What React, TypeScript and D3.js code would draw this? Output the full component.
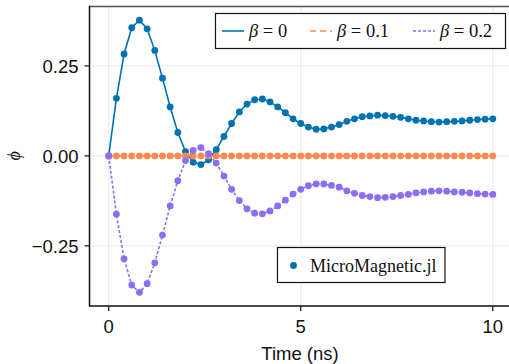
import React, { useEffect, useRef } from "react";
import * as d3 from "d3";

// time samples (ns), 0..10 every 0.2
const times = d3.range(51).map((i) => +(i * 0.2).toFixed(1));

// beta = 0
const phiBeta0 = [
  0, 0.16, 0.283, 0.356, 0.377, 0.353, 0.293, 0.216, 0.136, 0.065,
  0.012, -0.018, -0.024, -0.011, 0.017, 0.054, 0.09, 0.122, 0.144, 0.156,
  0.158, 0.15, 0.136, 0.12, 0.103, 0.09, 0.08, 0.074, 0.075, 0.08,
  0.087, 0.096, 0.103, 0.109, 0.111, 0.113, 0.112, 0.11, 0.107, 0.103,
  0.099, 0.097, 0.095, 0.094, 0.095, 0.096, 0.097, 0.099, 0.101, 0.102,
  0.103,
];

// beta = 0.1
const phiBeta01 = times.map(() => 0);

// beta = 0.2
const phiBeta02 = [
  0, -0.162, -0.286, -0.359, -0.379, -0.355, -0.297, -0.22, -0.139, -0.069,
  -0.013, 0.015, 0.023, 0.006, -0.02, -0.056, -0.093, -0.124, -0.147, -0.159,
  -0.161, -0.153, -0.139, -0.123, -0.106, -0.093, -0.083, -0.078, -0.078, -0.082,
  -0.087, -0.097, -0.104, -0.11, -0.113, -0.116, -0.115, -0.113, -0.11, -0.107,
  -0.103, -0.1, -0.098, -0.097, -0.098, -0.1, -0.101, -0.103, -0.105, -0.106,
  -0.107,
];

const seriesNames = ["β = 0", "β = 0.1", "β = 0.2"];
const xTicks = [0, 5, 10];
const yTicks = [-0.25, 0, 0.25];

const App = () => {
  const ref = useRef<SVGSVGElement>(null);

  useEffect(() => {
    const W = 509;
    const H = 364;
    const svg = d3.select(ref.current);
    svg.selectAll("*").remove();
    svg.attr("width", W).attr("height", H);

    const left = 89.5;
    const bottom = 306;
    const top = 6.5;

    const x = d3.scaleLinear().domain([-0.5, 10.5]).range([left, 512]);
    const y = d3.scaleLinear().domain([-0.417, 0.415]).range([bottom, top]);

    const series = [
      { name: seriesNames[0], values: phiBeta0, color: "#0072b2", dash: null },
      { name: seriesNames[1], values: phiBeta01, color: "#ff8a50", dash: "6,4" },
      { name: seriesNames[2], values: phiBeta02, color: "#8a6ef8", dash: "3,2" },
    ];

    const sans = "'Liberation Sans', Arial, sans-serif";
    const serif = "'Liberation Serif', 'DejaVu Serif', serif";

    // grid
    const grid = svg.append("g").attr("stroke", "#e8e8e8").attr("stroke-width", 1);
    xTicks.forEach((t) => {
      grid.append("line").attr("x1", x(t)).attr("x2", x(t)).attr("y1", top).attr("y2", bottom);
    });
    yTicks.forEach((t) => {
      grid.append("line").attr("x1", left).attr("x2", W).attr("y1", y(t)).attr("y2", y(t));
    });

    // lines + markers
    const line = d3
      .line<number>()
      .x((_, i) => x(times[i]))
      .y((d) => y(d));

    series.forEach((s) => {
      svg
        .append("path")
        .attr("d", line(s.values))
        .attr("fill", "none")
        .attr("stroke", s.color)
        .attr("stroke-width", 1.6)
        .attr("stroke-dasharray", s.dash);
    });
    series.forEach((s) => {
      svg
        .append("g")
        .selectAll("circle")
        .data(s.values)
        .join("circle")
        .attr("cx", (_, i) => x(times[i]))
        .attr("cy", (d) => y(d))
        .attr("r", 3.4)
        .attr("fill", s.color);
    });

    // spines
    svg.append("line").attr("x1", left).attr("x2", W).attr("y1", top).attr("y2", top)
      .attr("stroke", "#555").attr("stroke-width", 1.5);
    svg.append("line").attr("x1", left).attr("x2", left).attr("y1", top - 0.75).attr("y2", bottom + 0.75)
      .attr("stroke", "#111").attr("stroke-width", 1.5);
    svg.append("line").attr("x1", left).attr("x2", W).attr("y1", bottom).attr("y2", bottom)
      .attr("stroke", "#111").attr("stroke-width", 1.5);

    // ticks and labels
    yTicks.forEach((t) => {
      svg.append("line").attr("x1", left - 5).attr("x2", left).attr("y1", y(t)).attr("y2", y(t))
        .attr("stroke", "#111").attr("stroke-width", 1.2);
      svg.append("text")
        .attr("x", 78.5)
        .attr("y", y(t))
        .attr("dy", "0.36em")
        .attr("text-anchor", "end")
        .attr("font-family", sans)
        .attr("font-size", 18.5)
        .attr("fill", "#111")
        .text(t === 0 ? "0.00" : (t < 0 ? "−" : "") + Math.abs(t).toFixed(2));
    });
    xTicks.forEach((t) => {
      svg.append("line").attr("x1", x(t)).attr("x2", x(t)).attr("y1", bottom).attr("y2", bottom + 5)
        .attr("stroke", "#111").attr("stroke-width", 1.2);
      svg.append("text")
        .attr("x", x(t))
        .attr("y", 333)
        .attr("text-anchor", "middle")
        .attr("font-family", sans)
        .attr("font-size", 18.5)
        .attr("fill", "#111")
        .text(t);
    });

    svg.append("text")
      .attr("x", 300)
      .attr("y", 360)
      .attr("text-anchor", "middle")
      .attr("font-family", sans)
      .attr("font-size", 18.5)
      .attr("fill", "#111")
      .text("Time (ns)");

    svg.append("text")
      .attr("transform", `translate(20,${y(0)}) rotate(-90)`)
      .attr("text-anchor", "middle")
      .attr("font-family", serif)
      .attr("font-style", "italic")
      .attr("font-size", 18)
      .attr("fill", "#111")
      .text("ϕ");

    // legend 1
    const lg = svg.append("g");
    lg.append("rect").attr("x", 215.5).attr("y", 13.5).attr("width", 290).attr("height", 35)
      .attr("fill", "white").attr("stroke", "#111").attr("stroke-width", 1.2);
    const entryX = [222, 310, 413];
    series.forEach((s, i) => {
      lg.append("line")
        .attr("x1", entryX[i]).attr("x2", entryX[i] + 22)
        .attr("y1", 31).attr("y2", 31)
        .attr("stroke", s.color).attr("stroke-width", 1.6)
        .attr("stroke-dasharray", s.dash);
      const tx = lg.append("text")
        .attr("x", entryX[i] + 27)
        .attr("y", 37)
        .attr("font-family", serif)
        .attr("font-size", 18.5)
        .attr("fill", "#111");
      const [b, v] = s.name.split(" = ");
      tx.append("tspan").attr("font-style", "italic").text(b);
      tx.append("tspan").text(" = " + v);
    });

    // legend 2
    const lg2 = svg.append("g");
    lg2.append("rect").attr("x", 277.5).attr("y", 247.5).attr("width", 167.5).attr("height", 35)
      .attr("fill", "white").attr("stroke", "#111").attr("stroke-width", 1.2);
    lg2.append("circle").attr("cx", 293.5).attr("cy", 265.5).attr("r", 3.4).attr("fill", "#0072b2");
    lg2.append("text")
      .attr("x", 310)
      .attr("y", 272)
      .attr("font-family", serif)
      .attr("font-size", 18)
      .attr("fill", "#111")
      .text("MicroMagnetic.jl");
  }, []);

  return <svg ref={ref} style={{ position: "absolute", left: 0, top: 0 }}></svg>;
};

export default App;
